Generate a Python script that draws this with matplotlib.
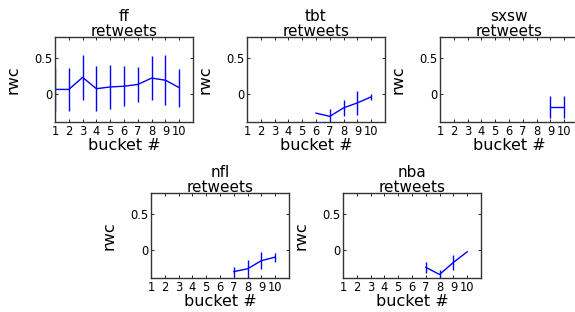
import matplotlib
matplotlib.use("Agg")
import matplotlib.pyplot as plt

buckets = list(range(1, 11))

# ff: full range of buckets
ff_x = [1, 2, 3, 4, 5, 6, 7, 8, 9, 10]
ff_y = [0.06, 0.06, 0.23, 0.07, 0.095, 0.105, 0.13, 0.22, 0.19, 0.085]
ff_err = [0.30, 0.30, 0.32, 0.32, 0.31, 0.285, 0.25, 0.31, 0.35, 0.27]

tbt_x = [6, 7, 8, 9, 10]
tbt_y = [-0.275, -0.32, -0.20, -0.13, -0.045]
tbt_err = [0.0, 0.11, 0.115, 0.165, 0.04]

sxsw_x = [9, 10]
sxsw_y = [-0.19, -0.19]
sxsw_err = [0.15, 0.15]

nfl_x = [7, 8, 9, 10]
nfl_y = [-0.31, -0.27, -0.155, -0.105]
nfl_err = [0.07, 0.13, 0.12, 0.065]

nba_x = [7, 8, 9, 10]
nba_y = [-0.25, -0.35, -0.18, -0.03]
nba_err = [0.08, 0.06, 0.10, 0.0]

titles = ["ff", "tbt", "sxsw", "nfl", "nba"]
series = [(ff_x, ff_y, ff_err), (tbt_x, tbt_y, tbt_err), (sxsw_x, sxsw_y, sxsw_err),
          (nfl_x, nfl_y, nfl_err), (nba_x, nba_y, nba_err)]

W, H = 575, 312
# axes boxes in pixels: left, top
boxes = [(55, 37), (247, 37), (440, 37), (151, 193), (343, 193)]
aw, ah = 138, 85

fig = plt.figure(figsize=(5.75, 3.12), dpi=100)
fig.patch.set_facecolor("white")

for (left, top), name, (x, y, e) in zip(boxes, titles, series):
    ax = fig.add_axes([left / W, 1 - (top + ah) / H, aw / W, ah / H])
    ax.errorbar(x, y, yerr=e, color="blue", ecolor="blue", linewidth=1, elinewidth=1, capsize=0)
    ax.set_xlim(1, 11)
    ax.set_ylim(-0.4, 0.8)
    ax.set_xticks(buckets)
    ax.set_yticks([0, 0.5])
    ax.set_yticklabels(["0", "0.5"])
    ax.tick_params(direction="in", top=True, right=True, length=2, width=0.6,
                   labelsize=8.3, pad=2)
    for s in ax.spines.values():
        s.set_linewidth(1)
        s.set_color("#333333")
    ax.set_title(name + "\nretweets", fontsize=11, pad=1, linespacing=1.0)
    ax.set_xlabel("bucket #", fontsize=11.5, labelpad=0)
    ax.set_ylabel("rwc", fontsize=11.5, labelpad=10)

fig.savefig("out.png", dpi=100, facecolor="white")
